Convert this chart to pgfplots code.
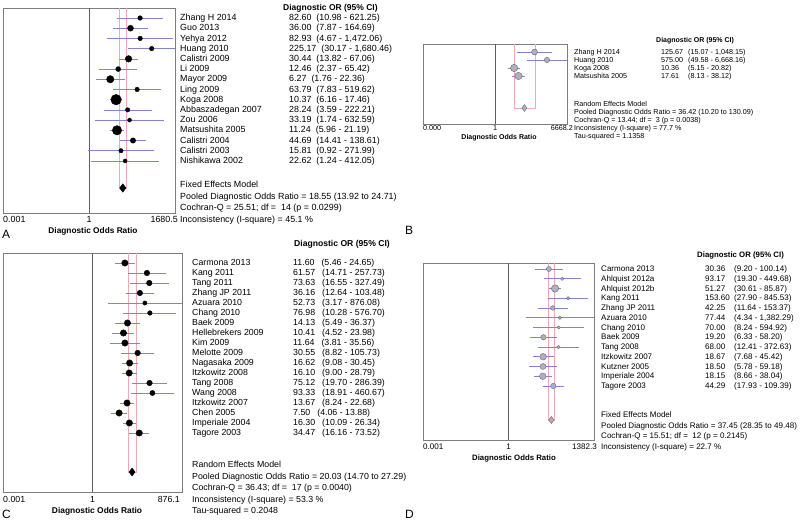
\documentclass[border=0pt]{standalone}
\usepackage{pgfplots}
\pgfplotsset{compat=1.18}
\usepackage{pgfplotstable}
\usepackage{fontspec}
\setmainfont{Liberation Sans}

\definecolor{ci}{RGB}{130,130,215}
\definecolor{pooled}{RGB}{240,170,180}
\definecolor{boxc}{RGB}{125,125,125}
\definecolor{onel}{RGB}{95,95,95}
\definecolor{gfill}{RGB}{175,175,190}
\definecolor{gdraw}{RGB}{105,105,115}

% study rows: y = row, or = diagnostic OR, s = marker radius (study weight)
\pgfplotstableread{
y or s
1 82.60 2.3
2 36.00 3
3 82.93 2.3
4 225.17 2.3
5 30.44 3.3
6 12.46 2.5
7 6.27 3.7
8 63.79 2.3
9 10.37 5.3
10 28.24 2.2
11 33.19 2
12 11.24 4.7
13 44.69 2.7
14 15.81 2.2
15 22.62 2
}\dataA

\pgfplotstableread{
y or s
1 125.67 3
2 575.00 2.7
3 10.36 3.7
4 17.61 3.7
}\dataB

\pgfplotstableread{
y or s
1 11.60 3.2
2 61.57 2.8
3 73.63 2.8
4 36.16 2.8
5 52.73 2.1
6 76.98 2.3
7 14.13 3.2
8 10.41 3.2
9 11.64 3.2
10 30.55 2.8
11 16.62 3.2
12 16.10 3.2
13 75.12 2.8
14 93.33 2.6
15 13.67 3.2
16 7.50 3.2
17 16.30 3.2
18 34.47 3.2
}\dataC

\pgfplotstableread{
y or s
1 30.36 2.5
2 93.17 1.7
3 51.27 3.7
4 153.60 1.7
5 42.25 2.3
6 77.44 1.7
7 70.00 1.7
8 19.20 2.7
9 68.00 1.7
10 18.67 3.3
11 18.50 3
12 18.15 3.3
13 44.29 2.7
}\dataD

% confidence interval segment: lower, upper, row
\newcommand\ci[3]{\addplot[ci, line width=0.5pt, forget plot] coordinates {(#1,#3) (#2,#3)};}

\begin{document}
\begin{tikzpicture}
\useasboundingbox (0,0) rectangle (800pt,521pt);

% ---------- A ----------
\begin{axis}[scale only axis, anchor=south west, xmode=log, y dir=reverse,
  xtick=\empty, ytick=\empty, axis line style={boxc, line width=0.6pt},
  at={(3pt,308pt)}, width=172pt, height=205pt,
  xmin=0.00059506, xmax=1680.5, ymin=0.02, ymax=20.1]
\addplot[onel, line width=0.6pt] coordinates {(1,0.02) (1,20.1)};
\addplot[pooled, line width=0.5pt] coordinates {(13.92,0.02) (13.92,17.65) (24.71,17.65) (24.71,0.02)};
\ci{10.98}{621.25}{1}
\ci{7.87}{164.69}{2}
\ci{4.67}{1472.06}{3}
\ci{30.17}{1680.46}{4}
\ci{13.82}{67.06}{5}
\ci{2.37}{65.42}{6}
\ci{1.76}{22.36}{7}
\ci{7.83}{519.62}{8}
\ci{6.16}{17.46}{9}
\ci{3.59}{222.21}{10}
\ci{1.74}{632.59}{11}
\ci{5.96}{21.19}{12}
\ci{14.41}{138.61}{13}
\ci{0.92}{271.99}{14}
\ci{1.24}{412.05}{15}
\addplot[scatter, only marks, mark=*,
  scatter/use mapped color={draw=black, fill=black},
  visualization depends on={\thisrow{s}\as\ms},
  scatter/@pre marker code/.append style={/tikz/mark size=\ms}] table[x=or, y=y] {\dataA};
\addplot[only marks, mark=diamond*, mark size=4.2, black] coordinates {(18.55,17.65)};
\end{axis}

% ---------- B ----------
\begin{axis}[scale only axis, anchor=south west, xmode=log, y dir=reverse,
  xtick=\empty, ytick=\empty, axis line style={boxc, line width=0.6pt},
  at={(423pt,397pt)}, width=144pt, height=80pt,
  xmin=0.00014996, xmax=6668.2, ymin=0, ymax=10]
\addplot[onel, line width=0.6pt] coordinates {(1,0) (1,10)};
\addplot[pooled, line width=0.5pt] coordinates {(10.20,0) (10.20,8) (130.09,8) (130.09,0)};
\ci{15.07}{1048.15}{1}
\ci{49.58}{6668.16}{2}
\ci{5.15}{20.82}{3}
\ci{8.13}{38.12}{4}
\addplot[scatter, only marks, mark=*,
  scatter/use mapped color={draw=gdraw, fill=gfill},
  visualization depends on={\thisrow{s}\as\ms},
  scatter/@pre marker code/.append style={/tikz/mark size=\ms, /tikz/line width=0.5pt}] table[x=or, y=y] {\dataB};
\addplot[only marks, mark=diamond*, mark size=3.4, draw=gdraw, fill=gfill] coordinates {(36.42,8)};
\end{axis}

% ---------- C ----------
\begin{axis}[scale only axis, anchor=south west, xmode=log, y dir=reverse,
  xtick=\empty, ytick=\empty, axis line style={boxc, line width=0.6pt},
  at={(3pt,29pt)}, width=179pt, height=239pt,
  xmin=0.0011414, xmax=876.1, ymin=0, ymax=23.9]
\addplot[onel, line width=0.6pt] coordinates {(1,0) (1,23.9)};
\addplot[pooled, line width=0.5pt] coordinates {(14.70,0) (14.70,21.9) (27.29,21.9) (27.29,0)};
\ci{5.46}{24.65}{1}
\ci{14.71}{257.73}{2}
\ci{16.55}{327.49}{3}
\ci{12.64}{103.48}{4}
\ci{3.17}{876.08}{5}
\ci{10.28}{576.70}{6}
\ci{5.49}{36.37}{7}
\ci{4.52}{23.98}{8}
\ci{3.81}{35.56}{9}
\ci{8.82}{105.73}{10}
\ci{9.08}{30.45}{11}
\ci{9.00}{28.79}{12}
\ci{19.70}{286.39}{13}
\ci{18.91}{460.67}{14}
\ci{8.24}{22.68}{15}
\ci{4.06}{13.88}{16}
\ci{10.09}{26.34}{17}
\ci{16.16}{73.52}{18}
\addplot[scatter, only marks, mark=*,
  scatter/use mapped color={draw=black, fill=black},
  visualization depends on={\thisrow{s}\as\ms},
  scatter/@pre marker code/.append style={/tikz/mark size=\ms}] table[x=or, y=y] {\dataC};
\addplot[only marks, mark=diamond*, mark size=4, black] coordinates {(20.03,21.9)};
\end{axis}

% ---------- D ----------
\begin{axis}[scale only axis, anchor=south west, xmode=log, y dir=reverse,
  xtick=\empty, ytick=\empty, axis line style={boxc, line width=0.6pt},
  at={(423pt,81pt)}, width=171pt, height=177pt,
  xmin=0.00072343, xmax=1382.3, ymin=0.385, ymax=18.54]
\addplot[onel, line width=0.6pt] coordinates {(1,0.385) (1,18.54)};
\addplot[pooled, line width=0.5pt] coordinates {(28.35,0.385) (28.35,16.49) (49.48,16.49) (49.48,0.385)};
\ci{9.20}{100.14}{1}
\ci{19.30}{449.68}{2}
\ci{30.61}{85.87}{3}
\ci{27.90}{845.53}{4}
\ci{11.64}{153.37}{5}
\ci{4.34}{1382.29}{6}
\ci{8.24}{594.92}{7}
\ci{6.33}{58.20}{8}
\ci{12.41}{372.63}{9}
\ci{7.68}{45.42}{10}
\ci{5.78}{59.18}{11}
\ci{8.66}{38.04}{12}
\ci{17.93}{109.39}{13}
\addplot[scatter, only marks, mark=*,
  scatter/use mapped color={draw=gdraw, fill=gfill},
  visualization depends on={\thisrow{s}\as\ms},
  scatter/@pre marker code/.append style={/tikz/mark size=\ms, /tikz/line width=0.5pt}] table[x=or, y=y] {\dataD};
\addplot[only marks, mark=diamond*, mark size=3.6, draw=gdraw, fill=gfill] coordinates {(37.45,16.49)};
\end{axis}

% ---------- texts ----------
\begin{scope}[x=1pt, y=-1pt, yshift=521pt]
\tikzset{t/.style={inner sep=0pt, anchor=mid west},
  fa/.style={font=\fontsize{8.9}{10}\selectfont},
  fb/.style={font=\fontsize{7.2}{8}\selectfont},
  fc/.style={font=\fontsize{8.8}{10}\selectfont},
  fd/.style={font=\fontsize{8.05}{9}\selectfont}}

% A
\node[t, font=\fontsize{8.5}{9}\selectfont\bfseries] at (283,7.5) {Diagnostic OR (95\% CI)};
\foreach \n/\v/\c [count=\i] in {
Zhang H 2014/82.60/{(10.98 - 621.25)},
Guo 2013/36.00/{(7.87 - 164.69)},
Yehya 2012/82.93/{(4.67 - 1,472.06)},
Huang 2010/225.17/{(30.17 - 1,680.46)},
Calistri 2009/30.44/{(13.82 - 67.06)},
Li 2009/12.46/{(2.37 - 65.42)},
Mayor 2009/6.27/{(1.76 - 22.36)},
Ling 2009/63.79/{(7.83 - 519.62)},
Koga 2008/10.37/{(6.16 - 17.46)},
Abbaszadegan 2007/28.24/{(3.59 - 222.21)},
Zou 2006/33.19/{(1.74 - 632.59)},
Matsushita 2005/11.24/{(5.96 - 21.19)},
Calistri 2004/44.69/{(14.41 - 138.61)},
Calistri 2003/15.81/{(0.92 - 271.99)},
Nishikawa 2002/22.62/{(1.24 - 412.05)}}{
  \node[t, fa] at (180,{18+(\i-1)*10.21}) {\n};
  \node[t, fa] at (289,{18+(\i-1)*10.21}) {\v\hspace{5pt}\c};
}
\node[t, fa] at (180,185) {Fixed Effects Model};
\node[t, fa] at (180,196.5) {Pooled Diagnostic Odds Ratio = 18.55 (13.92 to 24.71)};
\node[t, fa] at (180,208) {Cochran-Q = 25.51; df =\ \ 14 (p = 0.0299)};
\node[t, fa] at (180,219.5) {Inconsistency (I-square) = 45.1 \%};
\node[t, fa] at (3,219.5) {0.001};
\node[t, fa, anchor=mid] at (89,219.5) {1};
\node[t, fa, anchor=mid east] at (178,219.5) {1680.5};
\node[t, anchor=mid, font=\fontsize{8.3}{9}\selectfont\bfseries] at (93,230.5) {Diagnostic Odds Ratio};
\node[t, font=\fontsize{12}{13}\selectfont] at (2,236) {A};

% B
\node[t, font=\fontsize{7}{8}\selectfont\bfseries] at (656,40) {Diagnostic OR (95\% CI)};
\foreach \n/\v/\c [count=\i] in {
Zhang H 2014/125.67/{(15.07 - 1,048.15)},
Huang 2010/575.00/{(49.58 - 6,668.16)},
Koga 2008/10.36/{(5.15 - 20.82)},
Matsushita 2005/17.61/{(8.13 - 38.12)}}{
  \node[t, fb] at (574,{52+(\i-1)*8}) {\n};
  \node[t, fb] at (661,{52+(\i-1)*8}) {\v};
  \node[t, fb] at (688,{52+(\i-1)*8}) {\c};
}
\node[t, fb] at (574,104) {Random Effects Model};
\node[t, fb] at (574,112) {Pooled Diagnostic Odds Ratio = 36.42 (10.20 to 130.09)};
\node[t, fb] at (574,120) {Cochran-Q = 13.44; df =\ \ 3 (p = 0.0038)};
\node[t, fb] at (574,128) {Inconsistency (I-square) = 77.7 \%};
\node[t, fb] at (574,136) {Tau-squared = 1.1358};
\node[t, fb] at (423,128) {0.000};
\node[t, fb, anchor=mid] at (495,128) {1};
\node[t, fb, anchor=mid east] at (573,128) {6668.2};
\node[t, anchor=mid, font=\fontsize{7}{8}\selectfont\bfseries] at (499,137) {Diagnostic Odds Ratio};
\node[t, font=\fontsize{12}{13}\selectfont] at (405,232) {B};

% C
\node[t, font=\fontsize{8.6}{9}\selectfont\bfseries] at (294,244) {Diagnostic OR (95\% CI)};
\foreach \n/\v/\c [count=\i] in {
Carmona 2013/11.60/{(5.46 - 24.65)},
Kang 2011/61.57/{(14.71 - 257.73)},
Tang 2011/73.63/{(16.55 - 327.49)},
Zhang JP 2011/36.16/{(12.64 - 103.48)},
Azuara 2010/52.73/{(3.17 - 876.08)},
Chang 2010/76.98/{(10.28 - 576.70)},
Baek 2009/14.13/{(5.49 - 36.37)},
Hellebrekers 2009/10.41/{(4.52 - 23.98)},
Kim 2009/11.64/{(3.81 - 35.56)},
Melotte 2009/30.55/{(8.82 - 105.73)},
Nagasaka 2009/16.62/{(9.08 - 30.45)},
Itzkowitz 2008/16.10/{(9.00 - 28.79)},
Tang 2008/75.12/{(19.70 - 286.39)},
Wang 2008/93.33/{(18.91 - 460.67)},
Itzkowitz 2007/13.67/{(8.24 - 22.68)},
Chen 2005/7.50/{(4.06 - 13.88)},
Imperiale 2004/16.30/{(10.09 - 26.34)},
Tagore 2003/34.47/{(16.16 - 73.52)}}{
  \node[t, fc] at (192,{263+(\i-1)*10}) {\n};
  \node[t, fc] at (293,{263+(\i-1)*10}) {\v\hspace{7pt}\c};
}
\node[t, fc] at (192,465) {Random Effects Model};
\node[t, fc] at (192,476.5) {Pooled Diagnostic Odds Ratio = 20.03 (14.70 to 27.29)};
\node[t, fc] at (192,488) {Cochran-Q = 36.43; df =\ \ 17 (p = 0.0040)};
\node[t, fc] at (192,499.5) {Inconsistency (I-square) = 53.3 \%};
\node[t, fc] at (192,511) {Tau-squared = 0.2048};
\node[t, fc] at (3,499.5) {0.001};
\node[t, fc, anchor=mid] at (92.5,499.5) {1};
\node[t, fc, anchor=mid east] at (180,499.5) {876.1};
\node[t, anchor=mid, font=\fontsize{8.4}{9}\selectfont\bfseries] at (97,510.5) {Diagnostic Odds Ratio};
\node[t, font=\fontsize{12}{13}\selectfont] at (2,516) {C};

% D
\node[t, font=\fontsize{7.8}{8}\selectfont\bfseries] at (697,255) {Diagnostic OR (95\% CI)};
\foreach \n/\v/\c [count=\i] in {
Carmona 2013/30.36/{(9.20 - 100.14)},
Ahlquist 2012a/93.17/{(19.30 - 449.68)},
Ahlquist 2012b/51.27/{(30.61 - 85.87)},
Kang 2011/153.60/{(27.90 - 845.53)},
Zhang JP 2011/42.25/{(11.64 - 153.37)},
Azuara 2010/77.44/{(4.34 - 1,382.29)},
Chang 2010/70.00/{(8.24 - 594.92)},
Baek 2009/19.20/{(6.33 - 58.20)},
Tang 2008/68.00/{(12.41 - 372.63)},
Itzkowitz 2007/18.67/{(7.68 - 45.42)},
Kutzner 2005/18.50/{(5.78 - 59.18)},
Imperiale 2004/18.15/{(8.66 - 38.04)},
Tagore 2003/44.29/{(17.93 - 109.39)}}{
  \node[t, fd] at (601,{269+(\i-1)*9.75}) {\n};
  \node[t, fd] at (705,{269+(\i-1)*9.75}) {\v};
  \node[t, fd] at (734,{269+(\i-1)*9.75}) {\c};
}
\node[t, fd] at (601,415) {Fixed Effects Model};
\node[t, fd] at (601,425.5) {Pooled Diagnostic Odds Ratio = 37.45 (28.35 to 49.48)};
\node[t, fd] at (601,436) {Cochran-Q = 15.51; df =\ \ 12 (p = 0.2145)};
\node[t, fd] at (601,446.5) {Inconsistency (I-square) = 22.7 \%};
\node[t, fd] at (423,446.5) {0.001};
\node[t, fd, anchor=mid] at (508.5,446.5) {1};
\node[t, fd, anchor=mid east] at (597,446.5) {1382.3};
\node[t, anchor=mid, font=\fontsize{7.8}{8}\selectfont\bfseries] at (514,458) {Diagnostic Odds Ratio};
\node[t, font=\fontsize{12}{13}\selectfont] at (405,516) {D};
\end{scope}
\end{tikzpicture}
\end{document}
